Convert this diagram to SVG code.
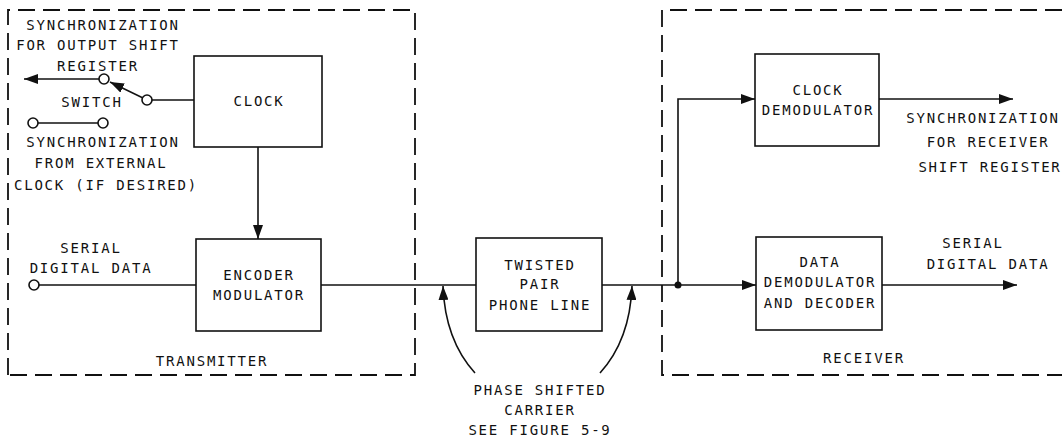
<svg xmlns="http://www.w3.org/2000/svg" width="1062" height="440" viewBox="0 0 1062 440">
<style>
text{font-family:"DejaVu Sans Mono","Liberation Mono",monospace;font-size:14px;letter-spacing:1.8px;fill:#111;text-anchor:middle}
.box{fill:#fff;stroke:#111;stroke-width:1.6}
.dash{fill:none;stroke:#111;stroke-width:1.8;stroke-dasharray:17 8}
.ln{fill:none;stroke:#111;stroke-width:1.6}
.term{fill:#fff;stroke:#111;stroke-width:1.6}
</style>
<defs>
<marker id="ah" viewBox="0 0 14 10" refX="14" refY="5" markerWidth="14" markerHeight="10" markerUnits="userSpaceOnUse" orient="auto">
<path d="M0,0 L14,5 L0,10 Z" fill="#111"/>
</marker>
</defs>
<rect width="1062" height="440" fill="#fff"/>
<g id="transmitter">
<path class="dash" d="M8,375 L8,10 L415,10 L415,375 Z"/>
<text x="212" y="366">TRANSMITTER</text>
</g>
<g id="receiver">
<path class="dash" d="M1062,10 L662,10 L662,375 L1062,375"/>
<text x="864" y="363">RECEIVER</text>
</g>
<g id="connectors">
<line class="ln" x1="194" y1="100" x2="152" y2="100"/>
<line class="ln" x1="143" y1="98" x2="110" y2="82" marker-end="url(#ah)"/>
<line class="ln" x1="99" y1="79" x2="24" y2="79" marker-end="url(#ah)"/>
<line class="ln" x1="38" y1="123" x2="98" y2="123"/>
<line class="ln" x1="258" y1="147" x2="258" y2="239" marker-end="url(#ah)"/>
<line class="ln" x1="39" y1="285" x2="196" y2="285"/>
<line class="ln" x1="321" y1="285" x2="476" y2="285"/>
<line class="ln" x1="602" y1="285" x2="756" y2="285" marker-end="url(#ah)"/>
<path class="ln" d="M678,285 L678,99 L755,99" marker-end="url(#ah)"/>
<line class="ln" x1="879" y1="99" x2="1013" y2="99" marker-end="url(#ah)"/>
<line class="ln" x1="882" y1="285" x2="1017" y2="285" marker-end="url(#ah)"/>
<path class="ln" d="M475,373 Q445,340 443,286" marker-end="url(#ah)"/>
<path class="ln" d="M600,373 Q630,340 632,286" marker-end="url(#ah)"/>
<circle cx="678" cy="285" r="3.5" fill="#111"/>
</g>
<g id="switch">
<circle class="term" cx="147" cy="100" r="5"/>
<circle class="term" cx="104" cy="79" r="5"/>
<circle class="term" cx="33" cy="123" r="5"/>
<circle class="term" cx="103" cy="123" r="5"/>
<text x="92" y="107">SWITCH</text>
</g>
<g id="sync-out-label">
<text x="103" y="30">SYNCHRONIZATION</text>
<text x="98" y="50">FOR OUTPUT SHIFT</text>
<text x="98" y="71">REGISTER</text>
</g>
<g id="sync-ext-label">
<text x="103" y="147">SYNCHRONIZATION</text>
<text x="101" y="168">FROM EXTERNAL</text>
<text x="106" y="190">CLOCK (IF DESIRED)</text>
</g>
<g id="serial-in">
<circle class="term" cx="34" cy="285" r="5"/>
<text x="91" y="253">SERIAL</text>
<text x="91" y="273">DIGITAL DATA</text>
</g>
<g id="clock">
<rect class="box" x="194" y="56" width="128" height="91"/>
<text x="259" y="106">CLOCK</text>
</g>
<g id="encoder">
<rect class="box" x="196" y="239" width="125" height="92"/>
<text x="259" y="280">ENCODER</text>
<text x="259" y="300">MODULATOR</text>
</g>
<g id="twisted-pair">
<rect class="box" x="476" y="238" width="126" height="93"/>
<text x="540" y="270">TWISTED</text>
<text x="540" y="289">PAIR</text>
<text x="540" y="310">PHONE LINE</text>
</g>
<g id="carrier-label">
<text x="540" y="395">PHASE SHIFTED</text>
<text x="540" y="415">CARRIER</text>
<text x="540" y="435">SEE FIGURE 5-9</text>
</g>
<g id="clock-demod">
<rect class="box" x="755" y="54" width="124" height="92"/>
<text x="818" y="95">CLOCK</text>
<text x="818" y="115">DEMODULATOR</text>
</g>
<g id="sync-recv-label">
<text x="983" y="123">SYNCHRONIZATION</text>
<text x="988" y="147">FOR RECEIVER</text>
<text x="990" y="172">SHIFT REGISTER</text>
</g>
<g id="data-demod">
<rect class="box" x="756" y="237" width="126" height="93"/>
<text x="820" y="267">DATA</text>
<text x="820" y="287">DEMODULATOR</text>
<text x="820" y="308">AND DECODER</text>
</g>
<g id="serial-out">
<text x="973" y="248">SERIAL</text>
<text x="988" y="269">DIGITAL DATA</text>
</g>
</svg>
